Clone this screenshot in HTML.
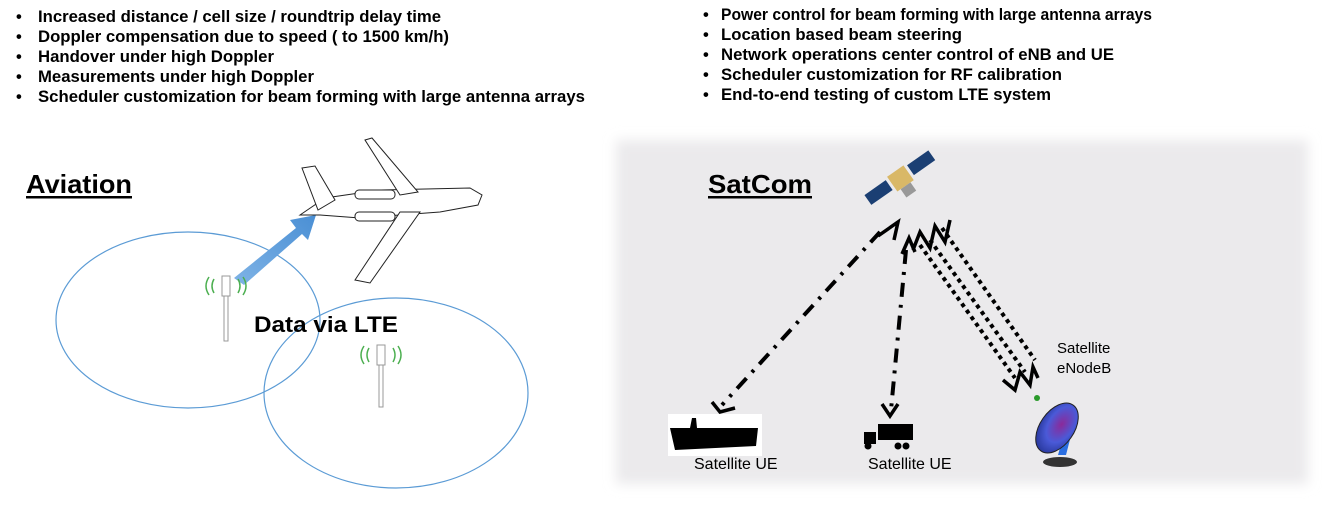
<!DOCTYPE html>
<html><head><meta charset="utf-8"><style>
html,body{margin:0;padding:0;background:#fff;}
svg{display:block;font-family:"Liberation Sans",Arial,sans-serif;}
</style></head><body>
<svg width="1340" height="511" viewBox="0 0 1340 511" xmlns="http://www.w3.org/2000/svg">
<defs>
<filter id="blur" x="-5%" y="-5%" width="110%" height="110%"><feGaussianBlur stdDeviation="6"/></filter>
<linearGradient id="arr" x1="0" y1="1" x2="1" y2="0"><stop offset="0" stop-color="#7fb3e6"/><stop offset="1" stop-color="#4a8fd4"/></linearGradient>
<radialGradient id="dish" cx="0.55" cy="0.4" r="0.6"><stop offset="0" stop-color="#8a2a9a"/><stop offset="0.6" stop-color="#4a5ad8"/><stop offset="1" stop-color="#2a3aa0"/></radialGradient>
</defs>
<rect x="616" y="140" width="692" height="344" fill="#ebeaec" filter="url(#blur)"/>
<g font-size="16.5" font-weight="bold" fill="#000">
<text x="16" y="22">•</text><text x="38" y="22" textLength="403" lengthAdjust="spacingAndGlyphs">Increased distance / cell size / roundtrip delay time</text>
<text x="16" y="42">•</text><text x="38" y="42" textLength="411" lengthAdjust="spacingAndGlyphs">Doppler compensation due to speed ( to 1500 km/h)</text>
<text x="16" y="62">•</text><text x="38" y="62" textLength="236" lengthAdjust="spacingAndGlyphs">Handover under high Doppler</text>
<text x="16" y="82">•</text><text x="38" y="82" textLength="276" lengthAdjust="spacingAndGlyphs">Measurements under high Doppler</text>
<text x="16" y="102">•</text><text x="38" y="102" textLength="547" lengthAdjust="spacingAndGlyphs">Scheduler customization for beam forming with large antenna arrays</text>
<text x="703" y="20">•</text><text x="721" y="20" textLength="431" lengthAdjust="spacingAndGlyphs">Power control for beam forming with large antenna arrays</text>
<text x="703" y="40">•</text><text x="721" y="40" textLength="241" lengthAdjust="spacingAndGlyphs">Location based beam steering</text>
<text x="703" y="60">•</text><text x="721" y="60" textLength="393" lengthAdjust="spacingAndGlyphs">Network operations center control of eNB and UE</text>
<text x="703" y="80">•</text><text x="721" y="80" textLength="341" lengthAdjust="spacingAndGlyphs">Scheduler customization for RF calibration</text>
<text x="703" y="100">•</text><text x="721" y="100" textLength="330" lengthAdjust="spacingAndGlyphs">End-to-end testing of custom LTE system</text>
</g>
<text x="26" y="193" font-size="26" font-weight="bold" textLength="106" lengthAdjust="spacingAndGlyphs">Aviation</text>
<rect x="26" y="196" width="106" height="2.5" fill="#000"/>
<ellipse cx="188" cy="320" rx="132" ry="88" fill="none" stroke="#5b9bd5" stroke-width="1.2"/>
<ellipse cx="396" cy="393" rx="132" ry="95" fill="none" stroke="#5b9bd5" stroke-width="1.2"/>
<polygon points="234,278 296,228 290,220 316,215 308,240 302,234 244,285" fill="url(#arr)"/>
<g stroke="#999" fill="#fff" stroke-width="1">
<rect x="222" y="276" width="8" height="20"/><rect x="224" y="296" width="4" height="45"/>
<rect x="377" y="345" width="8" height="20"/><rect x="379" y="365" width="4" height="42"/>
</g>
<g stroke="#4caf50" fill="none" stroke-width="1.5">
<path d="M214,279 q-4,7 0,14 M209,277 q-6,9 0,18 M238,279 q4,7 0,14 M243,277 q6,9 0,18"/>
<path d="M369,348 q-4,7 0,14 M364,346 q-6,9 0,18 M393,348 q4,7 0,14 M398,346 q6,9 0,18"/>
</g>
<text x="254" y="332" font-size="22" font-weight="bold" textLength="144" lengthAdjust="spacingAndGlyphs">Data via LTE</text>
<g fill="#fff" stroke="#222" stroke-width="1">
<path d="M300,215 L325,198 L380,190 L470,188 L482,195 L478,205 L440,212 L360,218 L320,215 Z"/>
<path d="M302,168 L315,166 L335,200 L318,210 Z"/>
<path d="M365,140 L372,138 L418,192 L400,195 Z"/>
<path d="M400,212 L420,212 L370,283 L355,280 Z"/>
<rect x="355" y="190" width="40" height="9" rx="4"/>
<rect x="355" y="212" width="40" height="9" rx="4"/>
</g>
<text x="708" y="193" font-size="26" font-weight="bold" textLength="104" lengthAdjust="spacingAndGlyphs">SatCom</text>
<rect x="708" y="196" width="104" height="2.5" fill="#000"/>
<g transform="rotate(-35 905 185)">
<rect x="866" y="170" width="26" height="12" fill="#1b3f73"/>
<rect x="918" y="170" width="26" height="12" fill="#1b3f73"/>
<rect x="895" y="168" width="20" height="18" fill="#d9b867"/>
<rect x="899" y="186" width="12" height="10" fill="#999"/>
</g>
<g stroke="#000" stroke-width="4" fill="none" stroke-dasharray="14,8,3,8">
<line x1="880" y1="232" x2="722" y2="405"/>
<line x1="906" y1="250" x2="891" y2="410"/>
</g>
<g stroke="#000" stroke-width="3.5" fill="none">
<polyline points="878,236 898,222 894,240"/>
<polyline points="712,402 720,412 735,408"/>
<polyline points="902,254 909,238 915,252"/>
<polyline points="882,404 890,416 898,404"/>
</g>
<g stroke="#000" stroke-width="4" fill="none" stroke-dasharray="4,4">
<line x1="920" y1="245" x2="1015" y2="378"/>
<line x1="930" y1="240" x2="1025" y2="372"/>
<line x1="942" y1="228" x2="1035" y2="360"/>
</g>
<g stroke="#000" stroke-width="3.5" fill="none">
<polyline points="913,250 920,232 930,248 935,226 945,242 950,220"/>
<polyline points="1003,380 1015,390 1020,372 1030,385 1033,367 1038,378"/>
</g>
<rect x="668" y="414" width="94" height="42" fill="#fff"/>
<path d="M670,428 L690,428 L692,418 L696,418 L697,428 L758,428 L756,446 L675,450 Z" fill="#000"/>
<text x="694" y="469" font-size="16">Satellite UE</text>
<rect x="878" y="424" width="35" height="16" fill="#000"/>
<path d="M864,432 L876,432 L876,444 L864,444 Z" fill="#000"/>
<circle cx="868" cy="446" r="3.5" fill="#000"/><circle cx="898" cy="446" r="3.5" fill="#000"/><circle cx="906" cy="446" r="3.5" fill="#000"/>
<text x="868" y="469" font-size="16">Satellite UE</text>
<ellipse cx="1060" cy="462" rx="17" ry="5" fill="#333"/>
<polygon points="1058,455 1066,455 1075,420 1068,420" fill="#2a6ee0"/>
<ellipse cx="1057" cy="428" rx="17" ry="28" transform="rotate(35 1057 428)" fill="url(#dish)" stroke="#222"/>
<circle cx="1037" cy="398" r="3" fill="#2a9a2a"/>
<text x="1057" y="353" font-size="15">Satellite</text>
<text x="1057" y="373" font-size="15">eNodeB</text>
</svg>
</body></html>
